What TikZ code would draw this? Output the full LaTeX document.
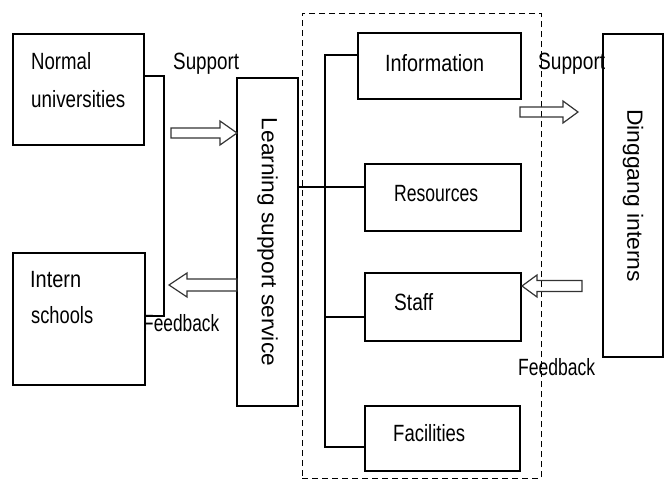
\documentclass[tikz,border=0pt]{standalone}
\usepackage{fontspec}
\setmainfont{Liberation Sans}
\usetikzlibrary{calc}
\newcommand\fitw[2]{\resizebox{#1pt}{\height}{#2}}
\newcommand\harrow[6]{%
  \draw[harr] ({#1},{#3-#4}) -- ({#2-#6},{#3-#4}) -- ({#2-#6},{#3-#5}) -- ({#2},{#3})
    -- ({#2-#6},{#3+#5}) -- ({#2-#6},{#3+#4}) -- ({#1},{#3+#4}) -- cycle;}
\begin{document}
\begin{tikzpicture}[x=1pt,y=-1pt,
  box/.style={draw, line width=1.3pt, inner sep=0pt},
  lbl/.style={inner sep=0pt, anchor=base west, font=\fontsize{23.5}{28}\selectfont},
  rot/.style={inner sep=0pt, rotate=-90, font=\fontsize{22}{26}\selectfont},
  conn/.style={line width=1.3pt},
  harr/.style={draw=black!80, line width=1.2pt, line join=miter},
  grp/.style={draw, dash pattern=on 6pt off 4pt, line width=1pt, inner sep=0pt}]
\useasboundingbox (0,0) rectangle (665,482);

% group (dashed)
\node[grp, minimum width=239pt, minimum height=465pt] (grp) at (421.5,245.5) {};

% boxes
\node[box, minimum width=131pt, minimum height=111pt] (nu) at (78.5,89.5) {};
\node[box, minimum width=132pt, minimum height=132pt] (is) at (79,319) {};
\node[box, minimum width=61pt, minimum height=328pt] (lss) at (267.5,242) {};
\node[box, minimum width=163pt, minimum height=66pt] (info) at (439.5,66) {};
\node[box, minimum width=156pt, minimum height=67pt] (res) at (443,197.5) {};
\node[box, minimum width=156pt, minimum height=68pt] (staff) at (443,307) {};
\node[box, minimum width=155pt, minimum height=65pt] (fac) at (442.5,438.5) {};
\node[box, minimum width=60pt, minimum height=323pt] (di) at (633,195.5) {};

% texts
\node[lbl] (t1) at (31,69) {\fitw{60}{Normal}};
\node[lbl] (t2) at (31,107) {\fitw{94}{universities}};
\node[lbl] (t3) at (30,287) {\fitw{51}{Intern}};
\node[lbl] (t4) at (31,323) {\fitw{62}{schools}};
\node[lbl] (t5) at (385,71) {\fitw{99}{Information}};
\node[lbl] (t6) at (394,201) {\fitw{84}{Resources}};
\node[lbl] (t7) at (394,310) {\fitw{39}{Staff}};
\node[lbl] (t8) at (393,441) {\fitw{72}{Facilities}};
\node[rot] (t9) at (lss.center) {\fitw{248}{Learning support service}};
\node[rot] (t10) at (di.center) {\fitw{173}{Dinggang interns}};

% labels
\node[lbl] (sup1) at (173,69) {\fitw{66}{Support}};
\node[lbl] (sup2) at (538,69) {\fitw{67}{Support}};
\node[lbl] (fb1) at (143,331) {\fitw{76}{Feedback}};
\node[lbl] (fb2) at (518,375) {\fitw{77}{Feedback}};

% connectors
\coordinate (c1) at (164,76);
\coordinate (c2) at (164,316);
\draw[conn] (c1 -| nu.east) -- (c1) -- (c2) -- (c2 -| is.east);

\coordinate (b1) at (325,55);
\coordinate (b2) at (325,187);
\coordinate (b3) at (325,317);
\coordinate (b4) at (325,447);
\draw[conn] (b2 -| lss.east) -- (b2 -| res.west);
\draw[conn] (b1 -| info.west) -- (b1) -- (b4) -- (b4 -| fac.west);
\draw[conn] (b3) -- (b3 -| staff.west);

% block arrows
\harrow{171}{237}{133}{5}{12}{17}
\harrow{237}{169}{285}{6}{12}{-18}
\harrow{520}{578}{112}{5}{11}{15}
\harrow{582}{522}{286}{5.5}{11}{-15}
\end{tikzpicture}
\end{document}
